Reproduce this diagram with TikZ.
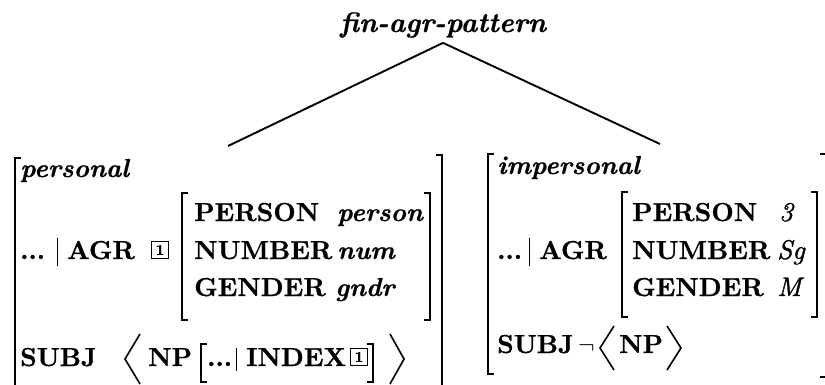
\documentclass[tikz,border=0pt]{standalone}
\usepackage{fontspec}
\newfontfamily\capsfont{lmroman10-bold.otf}[FakeStretch=1.0,FakeBold=0.8]
\newfontfamily\bifont{lmroman10-bolditalic.otf}[FakeBold=0.8]
\newfontfamily\itfont{lmroman10-italic.otf}[FakeBold=1.2]
\begin{document}
\begin{tikzpicture}[x=1pt,y=-1pt,
  txt/.style={inner sep=0pt, anchor=base west, font=\fontsize{26}{30}\capsfont},
  val/.style={inner sep=0pt, anchor=base west, font=\fontsize{26}{30}\bifont},
  mval/.style={inner sep=0pt, anchor=base west, font=\fontsize{27}{31}\itfont},
  brk/.style={line width=2pt},
  bar/.style={line width=1pt},
  ang/.style={line width=1.6pt},
  tagbox/.style={draw, line width=1.4pt, minimum size=17pt, inner sep=0pt, font=\fontsize{15}{16}\capsfont},
  branch/.style={line width=1.9pt}]
\useasboundingbox (0,0) rectangle (825,385);

% title and branches
\node[val, anchor=base, font=\fontsize{28}{32}\bifont] (title) at (443,32) {fin-agr-pattern};
\coordinate (pl) at (228,146);
\coordinate (pr) at (660,144);
\draw[branch] ([yshift=-5pt]title.south) -- (pl);
\draw[branch] ([yshift=-5pt]title.south) -- (pr);

% ---------- personal ----------
\draw[brk] (21,158) -- (15,158) -- (15,400);
\draw[brk] (436,155) -- (442,155) -- (442,400);
\node[val] (ptype) at (20,177) {personal};
\node[txt] (pdots1) at (20,259) {...};
\draw[bar] (57,238) -- (57,266);
\node[txt] (pagr) at (67,259) {AGR};
\node[tagbox] (ptag) at (160,250) {1};
\draw[brk] (188,193) -- (182,193) -- (182,320) -- (188,320);
\draw[brk] (424,193) -- (430,193) -- (430,320) -- (424,320);
\node[txt] (pper) at (194,221) {PERSON};
\node[txt] (pnum) at (194,259) {NUMBER};
\node[txt] (pgen) at (194,296) {GENDER};
\node[val] (pperv) at (337,221) {person};
\node[val] (pnumv) at (337,259) {num};
\node[val] (pgenv) at (335,296) {gndr};
\node[txt] (psubj) at (20,366) {SUBJ};
\draw[ang] (140,334) -- (125,359) -- (140,384);
\node[txt] (pnp) at (148,366) {NP};
\draw[brk] (207,344) -- (201,344) -- (201,382) -- (207,382);
\node[txt] (pdots) at (207,366) {...};
\draw[bar] (236,348) -- (236,371);
\node[txt] (pidx) at (246,366) {INDEX};
\node[tagbox] (ptag2) at (359,357) {1};
\draw[brk] (367,344) -- (373,344) -- (373,382) -- (367,382);
\draw[ang] (390,334) -- (404,359) -- (390,384);

% ---------- impersonal ----------
\draw[brk] (494,154) -- (488,154) -- (488,374) -- (494,374);
\draw[brk] (820,154) -- (826,154) -- (826,377) -- (820,377);
\node[val] (itype) at (497,174) {impersonal};
\node[txt] (idots1) at (497,259) {...};
\draw[bar] (529,238) -- (529,266);
\node[txt] (iagr) at (539,259) {AGR};
\draw[brk] (628,192) -- (622,192) -- (622,317) -- (628,317);
\draw[brk] (811,192) -- (817,192) -- (817,317) -- (811,317);
\node[txt] (iper) at (632,221) {PERSON};
\node[txt] (inum) at (632,259) {NUMBER};
\node[txt] (igen) at (632,296) {GENDER};
\node[mval] (iperv) at (779,221) {3};
\node[mval] (inumv) at (777,259) {Sg};
\node[mval] (igenv) at (777,296) {M};
\node[txt] (isubj) at (497,353) {SUBJ};
\node[txt] (ineg) at (578,353) {$\neg$};
\draw[ang] (614,326) -- (600,348) -- (614,370);
\node[txt] (inp) at (619,353) {NP};
\draw[ang] (667,326) -- (681,348) -- (667,370);
\end{tikzpicture}
\end{document}
